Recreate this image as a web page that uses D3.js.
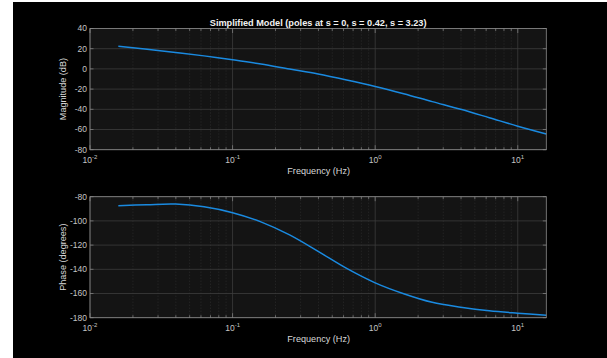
<!DOCTYPE html>
<html lang="en">
<head>
<meta charset="UTF-8" />
<title>Simplified Model Bode</title>
<script src="https://d3js.org/d3.v7.min.js"></script>
<style>
  html, body { margin: 0; padding: 0; background: #fff; }
  svg { display: block; font-family: "Liberation Sans", Arial, sans-serif; }
  .tick-label { fill: #c4c4c4; font-size: 8.5px; }
  .axis-label { fill: #d8d8d8; font-size: 9.1px; }
  .title { fill: #f2f2f2; font-size: 9.2px; font-weight: bold; }
</style>
</head>
<body>
<svg width="607" height="358"></svg>
<script>
// values
const freqHz = [0.0158, 0.0251, 0.0398, 0.0631, 0.1, 0.158, 0.251, 0.398, 0.631, 1.0, 1.585, 2.512, 3.981, 6.31, 10, 15.85];
const magDb = [22.5, 19.5, 16.3, 12.9, 9.0, 4.8, -0.2, -5.1, -11.0, -17.4, -24.6, -32.4, -40.0, -48.3, -56.7, -64.4];
const phaseDeg = [-87.4, -86.6, -86.1, -88.3, -93.2, -100.8, -111.6, -125.2, -139.3, -151.2, -160.2, -167.3, -171.3, -174.3, -176.3, -178.0];
const magTicks = [40, 20, 0, -20, -40, -60, -80];
const phaseTicks = [-80, -100, -120, -140, -160, -180];
const decadeExp = [-2, -1, 0, 1];
const titleText = "Simplified Model (poles at s = 0, s = 0.42, s = 3.23)";

const svg = d3.select("svg");
svg.append("rect").attr("x", 13).attr("y", 2).attr("width", 594).attr("height", 356).attr("fill", "#000");

const left = 90, right = 546.3;
const x = d3.scaleLog().domain([0.01, 15.85]).range([left, right]);

const minorTicks = [];
decadeExp.forEach(e => {
  for (let k = 2; k <= 9; k++) {
    const v = k * Math.pow(10, e);
    if (v < 15.85) minorTicks.push(v);
  }
});
const majorTicks = decadeExp.map(e => Math.pow(10, e));

function panel(top, bottom, yDomain, yTicks, values, yLabel) {
  const y = d3.scaleLinear().domain(yDomain).range([bottom, top]);
  const g = svg.append("g");

  g.append("rect")
    .attr("x", left).attr("y", top)
    .attr("width", right - left).attr("height", bottom - top)
    .attr("fill", "#141414");

  // minor grid
  g.selectAll(".minor").data(minorTicks).join("line")
    .attr("x1", d => x(d)).attr("x2", d => x(d))
    .attr("y1", top).attr("y2", bottom)
    .attr("stroke", "#3a3a3a").attr("stroke-width", 0.6)
    .attr("stroke-dasharray", "1,2");

  // major grid
  g.selectAll(".vmaj").data(majorTicks).join("line")
    .attr("x1", d => x(d)).attr("x2", d => x(d))
    .attr("y1", top).attr("y2", bottom)
    .attr("stroke", "#3c3c3c").attr("stroke-width", 0.8);
  g.selectAll(".hmaj").data(yTicks).join("line")
    .attr("x1", left).attr("x2", right)
    .attr("y1", d => y(d)).attr("y2", d => y(d))
    .attr("stroke", "#3c3c3c").attr("stroke-width", 0.8);

  // tick marks (inward, both sides)
  const tk = g.append("g").attr("stroke", "#8a8a8a").attr("stroke-width", 0.7);
  majorTicks.forEach(v => {
    tk.append("line").attr("x1", x(v)).attr("x2", x(v)).attr("y1", bottom).attr("y2", bottom - 4.5);
    tk.append("line").attr("x1", x(v)).attr("x2", x(v)).attr("y1", top).attr("y2", top + 4.5);
  });
  minorTicks.forEach(v => {
    tk.append("line").attr("x1", x(v)).attr("x2", x(v)).attr("y1", bottom).attr("y2", bottom - 2.5);
    tk.append("line").attr("x1", x(v)).attr("x2", x(v)).attr("y1", top).attr("y2", top + 2.5);
  });
  yTicks.forEach(v => {
    tk.append("line").attr("x1", left).attr("x2", left + 3.5).attr("y1", y(v)).attr("y2", y(v));
    tk.append("line").attr("x1", right).attr("x2", right - 3.5).attr("y1", y(v)).attr("y2", y(v));
  });

  // curve
  const line = d3.line()
    .x((d, i) => x(freqHz[i]))
    .y(d => y(d))
    .curve(d3.curveCatmullRom.alpha(0.5));
  g.append("path").datum(values)
    .attr("d", line)
    .attr("fill", "none")
    .attr("stroke", "#1a8ae0")
    .attr("stroke-width", 1.5);

  // box
  g.append("rect")
    .attr("x", left).attr("y", top)
    .attr("width", right - left).attr("height", bottom - top)
    .attr("fill", "none").attr("stroke", "#8a8a8a").attr("stroke-width", 0.8);

  // y tick labels
  g.selectAll(".ylab").data(yTicks).join("text")
    .attr("class", "tick-label")
    .attr("x", left - 3).attr("y", d => y(d))
    .attr("dy", "0.35em")
    .attr("text-anchor", "end")
    .text(d => d);

  // x tick labels 10^e
  decadeExp.forEach(e => {
    const t = g.append("text")
      .attr("class", "tick-label")
      .attr("x", x(Math.pow(10, e)))
      .attr("y", bottom + 13)
      .attr("text-anchor", "middle");
    t.append("tspan").text("10");
    t.append("tspan").attr("dy", -3.5).style("font-size", "6px").text(e);
  });

  g.append("text")
    .attr("class", "axis-label")
    .attr("x", (left + right) / 2 + 0.5)
    .attr("y", bottom + 24.5)
    .attr("text-anchor", "middle")
    .text("Frequency (Hz)");

  g.append("text")
    .attr("class", "axis-label")
    .attr("transform", `translate(66,${(top + bottom) / 2}) rotate(-90)`)
    .attr("text-anchor", "middle")
    .text(yLabel);
}

panel(28.5, 149.7, [-80, 40], magTicks, magDb, "Magnitude (dB)");
panel(196.7, 317.7, [-180, -80], phaseTicks, phaseDeg, "Phase (degrees)");

svg.append("text")
  .attr("class", "title")
  .attr("x", (left + right) / 2)
  .attr("y", 26)
  .attr("text-anchor", "middle")
  .text(titleText);
</script>
</body>
</html>
